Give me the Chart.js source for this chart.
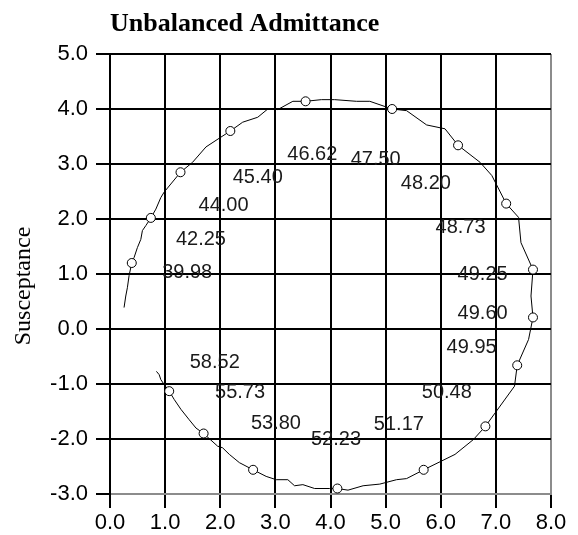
<!DOCTYPE html>
<html>
<head>
<meta charset="utf-8">
<script src="https://cdn.jsdelivr.net/npm/chart.js@4.4.1/dist/chart.umd.min.js"></script>
<style>
  html, body { margin: 0; padding: 0; background: #fff; }
</style>
</head>
<body>
<canvas id="myChart" width="578" height="535"></canvas>
<script>
// admittance locus (conductance on x, susceptance on y)
const curveX = [0.255, 0.286, 0.315, 0.346, 0.395, 0.437, 0.497, 0.559, 0.588, 0.650,
  0.741, 0.832, 0.922, 0.983, 1.279, 1.497, 1.741, 1.923, 2.183, 2.407,
  2.680, 2.862, 3.044, 3.317, 3.548, 3.834, 4.076, 4.471, 4.713, 5.118,
  5.380, 5.744, 6.077, 6.314, 6.714, 6.927, 7.187, 7.411, 7.455, 7.673,
  7.637, 7.673, 7.593, 7.387, 7.338, 6.810, 6.592, 6.259, 5.690, 5.380,
  5.198, 4.894, 4.591, 4.318, 4.125, 3.985, 3.712, 3.499, 3.348, 3.226,
  3.015, 2.833, 2.596, 2.347, 2.165, 2.043, 1.952, 1.698, 1.559, 1.437,
  1.286, 1.164, 1.074, 0.983, 0.922, 0.892, 0.842];
const curveY = [0.39, 0.60, 0.75, 0.97, 1.20, 1.30, 1.48, 1.63, 1.79, 1.88,
  2.02, 2.18, 2.39, 2.49, 2.85, 3.03, 3.31, 3.43, 3.60, 3.76,
  3.85, 4.00, 3.99, 4.14, 4.14, 4.17, 4.17, 4.14, 4.14, 4.00,
  3.97, 3.71, 3.64, 3.34, 3.03, 2.79, 2.28, 2.03, 1.57, 1.08,
  0.60, 0.21, -0.19, -0.66, -1.04, -1.77, -2.01, -2.28, -2.56, -2.72,
  -2.74, -2.82, -2.85, -2.93, -2.90, -2.90, -2.90, -2.83, -2.85, -2.74,
  -2.74, -2.68, -2.56, -2.43, -2.28, -2.16, -2.13, -1.90, -1.80, -1.65,
  -1.46, -1.28, -1.13, -1.01, -0.92, -0.83, -0.77];

// frequency markers
const markerX = [0.395, 0.741, 1.279, 2.183, 3.548, 5.118, 6.314, 7.187, 7.673, 7.673,
  7.387, 6.810, 5.690, 4.125, 2.596, 1.698, 1.074];
const markerY = [1.20, 2.02, 2.85, 3.60, 4.14, 4.00, 3.34, 2.28, 1.08, 0.21,
  -0.66, -1.77, -2.56, -2.90, -2.56, -1.90, -1.13];

// frequency labels
const labelText = ['39.98', '42.25', '44.00', '45.40', '46.62', '47.50', '48.20', '48.73',
  '49.25', '49.60', '49.95', '50.48', '51.17', '52.23', '53.80', '55.73', '58.52'];
const labelX = [1.40, 1.65, 2.06, 2.68, 3.67, 4.82, 5.73, 6.36,
  6.76, 6.76, 6.56, 6.11, 5.24, 4.10, 3.01, 2.36, 1.90];
const labelY = [1.03, 1.63, 2.24, 2.76, 3.18, 3.09, 2.64, 1.85,
  1.00, 0.28, -0.34, -1.16, -1.74, -2.00, -1.71, -1.16, -0.60];

const xRange = { min: 0, max: 8 };
const yRange = { min: -3, max: 5 };

const ctx = document.getElementById('myChart').getContext('2d');

const valueLabels = {
  id: 'valueLabels',
  afterDatasetsDraw(chart) {
    const c = chart.ctx;
    const xs = chart.scales.x;
    const ys = chart.scales.y;
    c.save();
    c.font = '20px "Liberation Sans", Arial, sans-serif';
    c.fillStyle = '#1a1a1a';
    c.textAlign = 'center';
    c.textBaseline = 'middle';
    labelText.forEach((t, i) => {
      c.fillText(t, xs.getPixelForValue(labelX[i]), ys.getPixelForValue(labelY[i]));
    });
    c.restore();
  }
};

const tickFont = { family: '"Liberation Sans", Arial, sans-serif', size: 22 };

const myChart = new Chart(ctx, {
  type: 'scatter',
  data: {
    datasets: [{
      label: 'locus',
      data: curveX.map((x, i) => ({ x: x, y: curveY[i] })),
      showLine: true,
      borderColor: '#000',
      borderWidth: 1,
      pointRadius: 0,
      tension: 0,
      order: 2
    },
    {
      label: 'markers',
      data: markerX.map((x, i) => ({ x: x, y: markerY[i] })),
      showLine: false,
      pointRadius: 4.5,
      pointBackgroundColor: '#fff',
      pointBorderColor: '#000',
      pointBorderWidth: 1,
      order: 1
    }]
  },
  options: {
    responsive: false,
    animation: false,
    layout: { padding: { left: 0, right: 27, top: 0, bottom: 0 } },
    plugins: {
      legend: { display: false },
      tooltip: { enabled: false },
      title: {
        display: true,
        text: 'Unbalanced Admittance',
        align: 'start',
        fullSize: false,
        color: '#000',
        font: { family: '"Liberation Serif", "Times New Roman", serif', size: 26, weight: 'bold', lineHeight: 1.2 },
        padding: { top: 9, bottom: 13.8 }
      }
    },
    scales: {
      x: {
        type: 'linear',
        position: 'bottom',
        min: xRange.min,
        max: xRange.max,
        afterFit: (scale) => { scale.height = 41; },
        ticks: {
          stepSize: 1,
          color: '#000',
          font: tickFont,
          padding: 2,
          maxRotation: 0,
          callback: (v) => v.toFixed(1)
        },
        grid: {
          color: (c) => (c.tick && c.tick.value === xRange.max ? '#8c8c8c' : '#000'),
          lineWidth: 2,
          tickColor: '#000',
          tickWidth: 2,
          tickLength: 14
        },
        border: { color: '#8c8c8c', width: 2 }
      },
      y: {
        type: 'linear',
        min: yRange.min,
        max: yRange.max,
        afterFit: (scale) => { scale.width = 110; },
        title: {
          display: true,
          // trailing spaces push the visible word a little below the axis centre
          text: 'Susceptance    ',
          color: '#000',
          font: { family: '"Liberation Serif", "Times New Roman", serif', size: 24, lineHeight: 1.2 },
          padding: { top: 9, bottom: 0 }
        },
        ticks: {
          stepSize: 1,
          color: '#000',
          font: tickFont,
          padding: 8,
          callback: (v) => v.toFixed(1)
        },
        grid: {
          color: (c) => (c.tick && c.tick.value === yRange.min ? '#8c8c8c' : '#000'),
          lineWidth: 2,
          tickColor: '#000',
          tickWidth: 2,
          tickLength: 14
        },
        border: { color: '#000', width: 2 }
      }
    }
  },
  plugins: [valueLabels]
});
</script>
</body>
</html>
